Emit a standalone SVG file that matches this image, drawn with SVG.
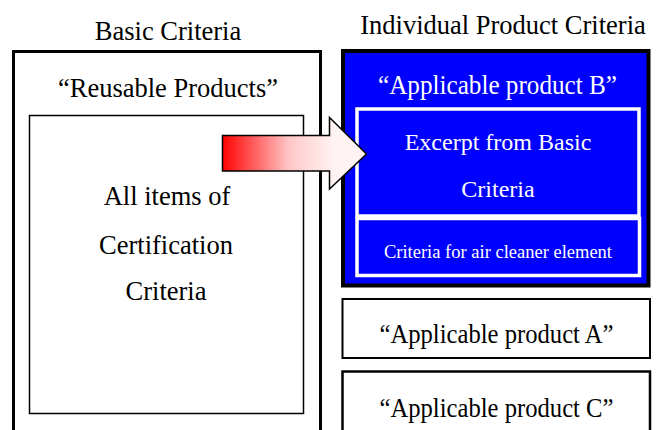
<svg xmlns="http://www.w3.org/2000/svg" width="657" height="430" viewBox="0 0 657 430">
<style>
text{font-family:"Liberation Serif","Times New Roman",serif;text-anchor:middle}
.blk{fill:#000}
.wht{fill:#fff}
.big{font-size:26.5px}
.mid{font-size:24px}
.sml{font-size:18.5px}
</style>
<defs>
<linearGradient id="redfade" gradientUnits="userSpaceOnUse" x1="222" y1="0" x2="335" y2="0">
<stop offset="0" stop-color="#ff0000"/>
<stop offset="0.6" stop-color="#ffc8c8"/>
<stop offset="1" stop-color="#fff4f4"/>
</linearGradient>
</defs>
<rect width="657" height="430" fill="#fff"/>
<g id="basic">
<text class="blk big" x="168" y="40">Basic Criteria</text>
<rect x="13.5" y="51.5" width="307" height="400" fill="#fff" stroke="#000" stroke-width="3"/>
<text class="blk big" x="168" y="97">“Reusable Products”</text>
</g>
<g id="allitems">
<rect x="29.5" y="115.5" width="274" height="298" fill="#fff" stroke="#000" stroke-width="1.5"/>
<text class="blk big" x="167" y="205">All items of</text>
<text class="blk big" x="166" y="254">Certification</text>
<text class="blk big" x="166" y="300">Criteria</text>
</g>
<g id="productB">
<text class="blk big" x="503" y="34">Individual Product Criteria</text>
<rect x="343" y="51" width="305.5" height="234.5" fill="#0000ff" stroke="#000" stroke-width="4"/>
<text class="wht big" x="497.5" y="94" textLength="239" lengthAdjust="spacingAndGlyphs">“Applicable product B”</text>
</g>
<g id="excerpt">
<rect x="357" y="109" width="282" height="107" fill="#0000ff" stroke="#fff" stroke-width="3.5"/>
<text class="wht mid" x="498" y="150">Excerpt from Basic</text>
<text class="wht mid" x="498" y="196.5">Criteria</text>
</g>
<g id="aircleaner">
<rect x="357" y="218.5" width="282.5" height="57" fill="#0000ff" stroke="#fff" stroke-width="3.5"/>
<text class="wht sml" x="498" y="258">Criteria for air cleaner element</text>
</g>
<g id="productA">
<rect x="342.5" y="299" width="307.5" height="59" fill="#fff" stroke="#000" stroke-width="2"/>
<text class="blk big" x="496.5" y="343" textLength="234" lengthAdjust="spacingAndGlyphs">“Applicable product A”</text>
</g>
<g id="productC">
<rect x="342.5" y="371.5" width="307.5" height="70" fill="#fff" stroke="#000" stroke-width="2.5"/>
<text class="blk big" x="496.5" y="416.5" textLength="234" lengthAdjust="spacingAndGlyphs">“Applicable product C”</text>
</g>
<g id="connectors">
<path d="M222.5,135.5 L329.5,135.5 L329.5,117.5 L366.5,154 L329.5,189 L329.5,171 L222.5,171 Z" fill="url(#redfade)" stroke="#000" stroke-width="1.5" stroke-linejoin="miter"/>
</g>
</svg>
